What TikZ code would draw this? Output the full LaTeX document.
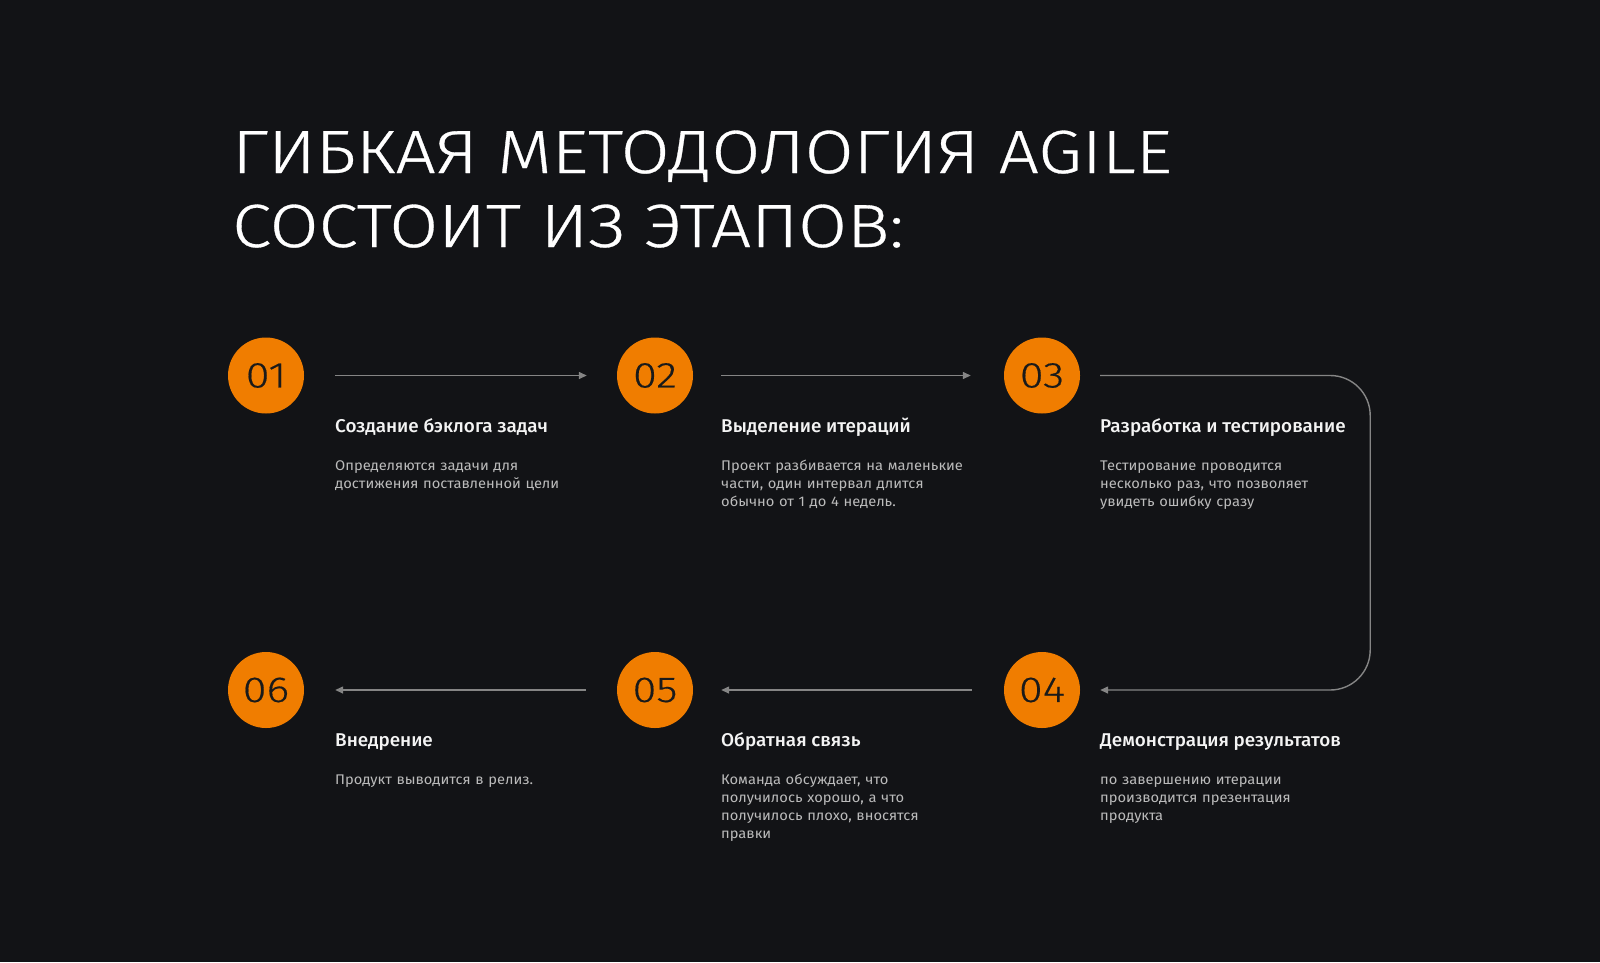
\documentclass[tikz,border=0pt]{standalone}
\usepackage{fontspec}
\setmainfont{Fira Sans}
\newfontfamily\titlefont{Fira Sans Light}[FakeStretch=1.16,FakeBold=0.5]
\newfontfamily\numfont{Fira Sans Light}[FakeStretch=1.2,FakeBold=0.4]
\newfontfamily\medfont{Fira Sans Medium}[FakeStretch=1.02]
\newfontfamily\descfont{Fira Sans}[FakeStretch=1.05]
\usetikzlibrary{arrows.meta}
\definecolor{bg}{HTML}{121316}
\definecolor{orng}{HTML}{F07D00}
\definecolor{numc}{HTML}{1A1A1A}
\definecolor{linec}{HTML}{858585}
\definecolor{descc}{HTML}{BBBBBB}
\definecolor{headc}{HTML}{F4F4F4}
\tikzset{
  stepcircle/.style={circle, fill=orng, minimum size=76pt, inner sep=0pt,
    font=\numfont\fontsize{36}{36}\selectfont, text=numc},
  conn/.style={draw=linec, line width=1.4pt, -{Triangle[length=8pt,width=7pt]}},
  headtxt/.style={anchor=base west, inner sep=0pt, text=headc,
    font=\medfont\fontsize{18.5}{22}\selectfont},
  desctxt/.style={anchor=base west, inner sep=0pt, text=descc, align=left, text width=280pt,
    font=\descfont\fontsize{14}{18}\selectfont},
}
\begin{document}
\begin{tikzpicture}[x=1pt,y=-1pt]
\fill[bg] (0,0) rectangle (1600,962);
\useasboundingbox (0,0) rectangle (1600,962);

\node[anchor=base west, inner sep=0pt, text=white, align=left,
  font=\titlefont\fontsize{61}{74}\selectfont] (title) at (232,247)
  {ГИБКАЯ МЕТОДОЛОГИЯ AGILE\\СОСТОИТ ИЗ ЭТАПОВ:};

\node[stepcircle] (c1) at (266,375.5) {01};
\node[stepcircle] (c2) at (655,375.5) {02};
\node[stepcircle] (c3) at (1042,375.5) {03};
\node[stepcircle] (c4) at (1042,690) {04};
\node[stepcircle] (c5) at (655,690) {05};
\node[stepcircle] (c6) at (266,690) {06};

\draw[conn] ([xshift=31pt]c1.east) -- ([xshift=-30pt]c2.west);
\draw[conn] ([xshift=28pt]c2.east) -- ([xshift=-33pt]c3.west);
\draw[conn, rounded corners=40pt] ([xshift=20pt]c3.east) -- ++(270,0) -- ++(0,314.5) -- ([xshift=20pt]c4.east);
\draw[conn] ([xshift=-32pt]c4.west) -- ([xshift=28pt]c5.east);
\draw[conn] ([xshift=-31pt]c5.west) -- ([xshift=31pt]c6.east);

\node[headtxt] (h1) at (335,432) {Создание бэклога задач};
\node[desctxt] (d1) at (335,470) {Определяются задачи для\\достижения поставленной цели};
\node[headtxt] (h2) at (721,432) {Выделение итераций};
\node[desctxt] (d2) at (721,470) {Проект разбивается на маленькие\\части, один интервал длится\\обычно от 1 до 4 недель.};
\node[headtxt] (h3) at (1100,432) {Разработка и тестирование};
\node[desctxt] (d3) at (1100,470) {Тестирование проводится\\несколько раз, что позволяет\\увидеть ошибку сразу};

\node[headtxt] (h4) at (1100,746) {Демонстрация результатов};
\node[desctxt] (d4) at (1100,784) {по завершению итерации\\производится презентация\\продукта};
\node[headtxt] (h5) at (721,746) {Обратная связь};
\node[desctxt] (d5) at (721,784) {Команда обсуждает, что\\получилось хорошо, а что\\получилось плохо, вносятся\\правки};
\node[headtxt] (h6) at (335,746) {Внедрение};
\node[desctxt] (d6) at (335,784) {Продукт выводится в релиз.};
\end{tikzpicture}
\end{document}
